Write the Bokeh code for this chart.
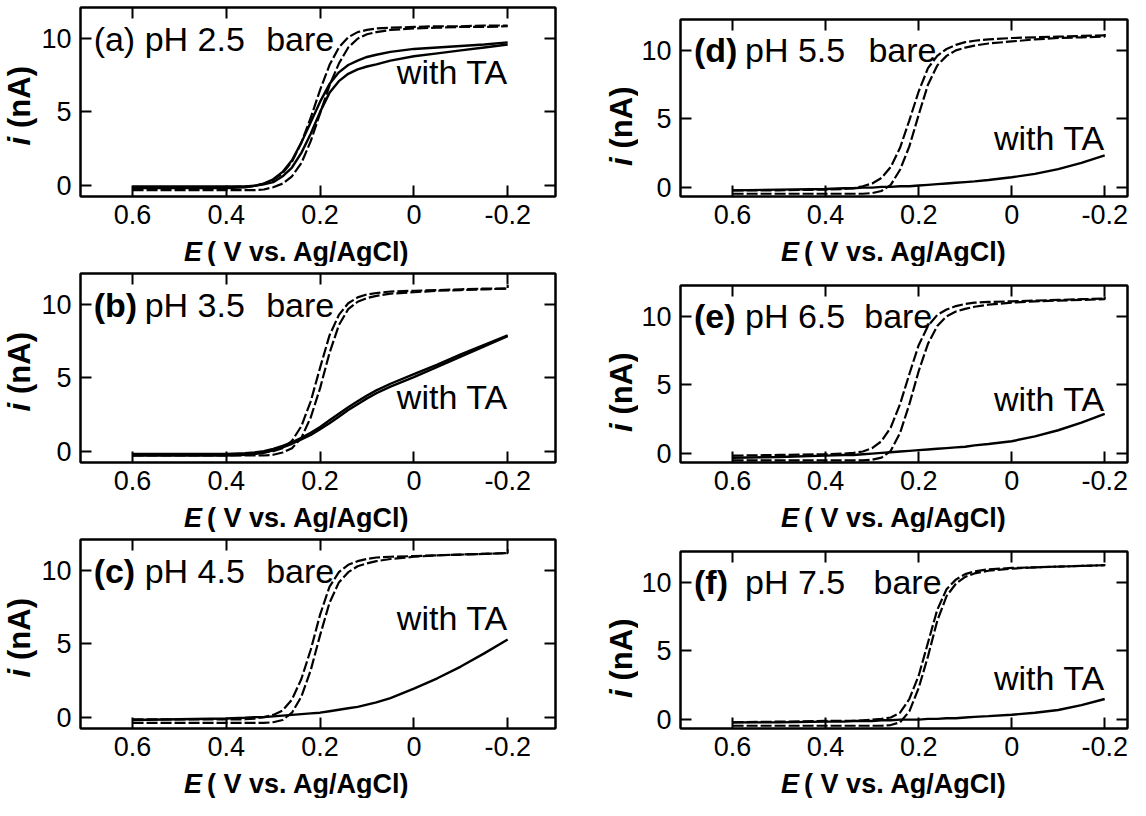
import math
from bokeh.plotting import figure
from bokeh.models import LinearAxis, FixedTicker, Range1d, Label
from bokeh.layouts import row, column
from bokeh.embed import file_html
from bokeh.resources import INLINE

# ---------------- data ----------------
E = [0.60, 0.50, 0.40, 0.36, 0.34, 0.32, 0.30, 0.28, 0.26, 0.24, 0.22, 0.20,
     0.18, 0.16, 0.14, 0.12, 0.10, 0.08, 0.05, 0.00, -0.05, -0.10, -0.15, -0.20]
E_BARE = E + [-0.20]

x_ticks = [0.6, 0.4, 0.2, 0.0, -0.2]
x_tick_labels = ["0.6", "0.4", "0.2", "0", "-0.2"]
y_ticks = [0, 5, 10]
y_tick_labels = ["0", "5", "10"]

letters = ["a", "b", "c", "d", "e", "f"]
ph_labels = ["pH 2.5", "pH 3.5", "pH 4.5", "pH 5.5", "pH 6.5", "pH 7.5"]

# bare electrode, two sweeps (i / nA)
bare1_a = [-0.15, -0.15, -0.15, -0.1, -0.05, 0.1, 0.35, 0.8, 1.6, 2.9, 4.6, 6.5, 8.2, 9.4, 10.1, 10.45, 10.6, 10.7, 10.75, 10.8, 10.85, 10.85, 10.9, 10.9, 10.9]
bare2_a = [-0.35, -0.35, -0.35, -0.35, -0.35, -0.3, -0.15, 0.1, 0.6, 1.5, 3.0, 4.9, 6.8, 8.3, 9.4, 10.0, 10.3, 10.45, 10.6, 10.7, 10.75, 10.8, 10.8, 10.85, 10.85]
bare1_b = [-0.2, -0.2, -0.2, -0.2, -0.15, -0.1, 0.0, 0.2, 0.7, 1.7, 3.4, 5.7, 7.9, 9.3, 10.1, 10.5, 10.7, 10.8, 10.9, 10.95, 11.0, 11.05, 11.1, 11.1, 11.1]
bare2_b = [-0.3, -0.3, -0.3, -0.3, -0.3, -0.3, -0.25, -0.1, 0.2, 0.9, 2.3, 4.3, 6.7, 8.6, 9.7, 10.2, 10.45, 10.6, 10.75, 10.85, 10.95, 11.0, 11.05, 11.1, 11.35]
bare1_c = [-0.15, -0.15, -0.15, -0.15, -0.1, 0.0, 0.15, 0.45, 1.2, 2.6, 4.6, 7.0, 8.9, 9.9, 10.4, 10.65, 10.8, 10.9, 10.95, 11.0, 11.05, 11.1, 11.15, 11.2, 11.2]
bare2_c = [-0.4, -0.4, -0.4, -0.4, -0.4, -0.4, -0.35, -0.2, 0.3, 1.4, 3.2, 5.6, 7.8, 9.2, 9.9, 10.3, 10.5, 10.65, 10.8, 10.95, 11.05, 11.1, 11.15, 11.2, 11.45]
bare1_d = [-0.2, -0.2, -0.15, -0.1, -0.05, 0.1, 0.3, 0.7, 1.5, 2.9, 4.9, 7.0, 8.7, 9.6, 10.1, 10.4, 10.6, 10.7, 10.8, 10.9, 10.95, 11.0, 11.05, 11.1, 11.1]
bare2_d = [-0.45, -0.45, -0.45, -0.45, -0.45, -0.45, -0.4, -0.25, 0.2, 1.3, 3.0, 5.3, 7.5, 8.9, 9.6, 10.0, 10.2, 10.35, 10.5, 10.65, 10.8, 10.9, 10.95, 11.0, 11.2]
bare1_e = [-0.15, -0.1, -0.05, 0.0, 0.05, 0.15, 0.4, 0.9, 1.9, 3.6, 5.8, 7.9, 9.3, 10.1, 10.5, 10.75, 10.9, 11.0, 11.05, 11.1, 11.15, 11.2, 11.25, 11.3, 11.3]
bare2_e = [-0.5, -0.5, -0.5, -0.5, -0.5, -0.5, -0.45, -0.3, 0.2, 1.5, 3.6, 6.0, 8.0, 9.3, 10.0, 10.35, 10.55, 10.7, 10.85, 11.0, 11.1, 11.15, 11.2, 11.25, 11.45]
bare1_f = [-0.2, -0.15, -0.1, -0.1, -0.1, -0.05, 0.0, 0.05, 0.15, 0.5, 1.5, 3.2, 5.6, 8.0, 9.5, 10.2, 10.6, 10.8, 10.95, 11.05, 11.1, 11.15, 11.2, 11.25, 11.25]
bare2_f = [-0.45, -0.45, -0.45, -0.45, -0.45, -0.45, -0.45, -0.45, -0.4, -0.2, 0.6, 2.3, 4.6, 7.2, 9.0, 9.9, 10.4, 10.65, 10.85, 11.0, 11.1, 11.15, 11.2, 11.25, 11.3]

# electrode with TA (i / nA)
ta1_a = [-0.2, -0.2, -0.2, -0.15, -0.05, 0.1, 0.4, 0.9, 1.7, 2.9, 4.3, 5.7, 6.9, 7.7, 8.2, 8.5, 8.75, 8.9, 9.1, 9.3, 9.4, 9.5, 9.6, 9.75]
ta2_a = [-0.1, -0.1, -0.1, -0.1, -0.05, 0.05, 0.2, 0.6, 1.2, 2.2, 3.5, 5.0, 6.3, 7.1, 7.6, 7.9, 8.1, 8.25, 8.5, 8.8, 9.0, 9.2, 9.4, 9.6]
ta1_b = [-0.2, -0.2, -0.2, -0.15, -0.1, 0.0, 0.15, 0.35, 0.6, 0.9, 1.25, 1.65, 2.1, 2.55, 3.0, 3.4, 3.8, 4.15, 4.6, 5.25, 5.9, 6.6, 7.25, 7.9]
ta2_b = [-0.3, -0.3, -0.3, -0.25, -0.2, -0.1, 0.05, 0.25, 0.5, 0.8, 1.1, 1.5, 1.9, 2.35, 2.8, 3.2, 3.6, 3.95, 4.4, 5.05, 5.75, 6.45, 7.15, 7.85]
ta_c = [-0.2, -0.15, -0.1, -0.05, 0.0, 0.0, 0.05, 0.1, 0.15, 0.2, 0.25, 0.3, 0.4, 0.5, 0.6, 0.7, 0.85, 1.0, 1.3, 1.95, 2.65, 3.45, 4.35, 5.3]
ta_d = [-0.2, -0.15, -0.1, -0.05, -0.05, 0.0, 0.0, 0.05, 0.05, 0.1, 0.1, 0.15, 0.2, 0.25, 0.3, 0.35, 0.4, 0.45, 0.55, 0.75, 1.0, 1.35, 1.8, 2.35]
ta_e = [-0.3, -0.25, -0.15, -0.1, -0.1, -0.05, 0.0, 0.05, 0.1, 0.15, 0.2, 0.25, 0.3, 0.35, 0.4, 0.45, 0.5, 0.6, 0.7, 0.9, 1.25, 1.7, 2.25, 2.9]
ta_f = [-0.2, -0.2, -0.15, -0.15, -0.1, -0.1, -0.1, -0.05, -0.05, 0.0, 0.0, 0.0, 0.05, 0.05, 0.1, 0.1, 0.15, 0.2, 0.25, 0.35, 0.5, 0.7, 1.05, 1.5]

bare_sets = [(bare1_a, bare2_a), (bare1_b, bare2_b), (bare1_c, bare2_c),
             (bare1_d, bare2_d), (bare1_e, bare2_e), (bare1_f, bare2_f)]
ta_sets = [[ta1_a, ta2_a], [ta1_b, ta2_b], [ta_c], [ta_d], [ta_e], [ta_f]]

# label placement (data units)
ta_label_y = [7.7, 3.7, 6.8, 3.6, 4.0, 3.0]
bare_label_x = [0.315, 0.315, 0.315, 0.308, 0.317, 0.297]

FONT = "Liberation Sans"
TICK_FS = "27px"
ANN_FS = "34px"
TITLE_FS = "27px"
YTITLE_FS = "31px"

# geometry per column (pixels)
COLS = {
    "left": dict(ytw=38, ytx=0.5, bl=36, fw=475, br=20, bt=7, fh=189, bb=40,
                 eh=30, ey=0.5, xr=(0.711, -0.302), yr=(-0.78, 12.13),
                 etitle_x=0.452, yi=3.3, yn=3.9),
    "right": dict(ytw=63, ytx=0.73, bl=40, fw=447, br=3, bt=19, fh=177, bb=40,
                  eh=30, ey=0.5, xr=(0.712, -0.249), yr=(-0.65, 12.25),
                  etitle_x=0.457, yi=2.2, yn=2.85),
}


def style_axis(ax, ticks, labels, show):
    ax.ticker = FixedTicker(ticks=ticks)
    ax.major_label_overrides = {t: l for t, l in zip(ticks, labels)}
    ax.minor_tick_line_color = None
    ax.major_tick_in = 11
    ax.major_tick_out = 0
    ax.major_tick_line_width = 2
    ax.major_tick_line_color = "black"
    ax.axis_line_width = 2
    ax.axis_line_color = "black"
    ax.major_label_text_font = FONT
    if show:
        ax.major_label_text_color = "black"
        ax.major_label_text_font_size = TICK_FS
    else:
        ax.major_label_text_color = None
        ax.major_label_text_font_size = "0px"
        ax.major_label_standoff = 0


def blank_fig(w, h, xr, yr, bl=0, br=0, bt=0, bb=0):
    f = figure(frame_width=w, frame_height=h, x_range=Range1d(*xr),
               y_range=Range1d(*yr), output_backend="svg",
               toolbar_location=None, x_axis_location=None,
               y_axis_location=None, min_border_left=bl, min_border_right=br,
               min_border_top=bt, min_border_bottom=bb)
    f.outline_line_color = None
    f.grid.visible = False
    f.background_fill_color = "white"
    f.border_fill_color = "white"
    return f


def make_panel(i, col):
    g = COLS[col]
    p = figure(frame_width=g["fw"], frame_height=g["fh"],
               x_range=Range1d(*g["xr"]), y_range=Range1d(*g["yr"]),
               output_backend="svg", toolbar_location=None,
               min_border_left=g["bl"], min_border_right=g["br"],
               min_border_top=g["bt"], min_border_bottom=g["bb"])
    p.background_fill_color = "white"
    p.border_fill_color = "white"
    p.xgrid.visible = False
    p.ygrid.visible = False
    p.outline_line_color = "black"
    p.outline_line_width = 2
    p.outline_line_alpha = 1.0

    style_axis(p.xaxis[0], x_ticks, x_tick_labels, True)
    p.xaxis[0].major_label_standoff = 8
    style_axis(p.yaxis[0], y_ticks, y_tick_labels, True)
    p.yaxis[0].major_label_standoff = 9
    top = LinearAxis()
    style_axis(top, x_ticks, x_tick_labels, False)
    p.add_layout(top, "above")
    right = LinearAxis()
    style_axis(right, y_ticks, y_tick_labels, False)
    p.add_layout(right, "right")

    b1, b2 = bare_sets[i]
    p.line(E_BARE, b1, line_color="black", line_width=2.2, line_dash="11 3")
    p.line(E_BARE, b2, line_color="black", line_width=2.2, line_dash="11 3")
    for ta in ta_sets[i]:
        p.line(E, ta, line_color="black", line_width=2.4)

    # in-panel annotations
    letter_style = "normal" if letters[i] == "a" else "bold"
    p.add_layout(Label(x=0.683, y=10, text="(" + letters[i] + ")",
                       text_font=FONT, text_font_size=ANN_FS,
                       text_font_style=letter_style, text_color="black",
                       text_align="left", text_baseline="middle"))
    p.add_layout(Label(x=0.683, y=10, x_offset=51, text=ph_labels[i],
                       text_font=FONT, text_font_size=ANN_FS,
                       text_color="black", text_align="left",
                       text_baseline="middle"))
    p.add_layout(Label(x=bare_label_x[i], y=10, text="bare",
                       text_font=FONT, text_font_size=ANN_FS,
                       text_color="black", text_align="left",
                       text_baseline="middle"))
    p.add_layout(Label(x=-0.2, y=ta_label_y[i], text="with TA",
                       text_font=FONT, text_font_size=ANN_FS,
                       text_color="black", text_align="right",
                       text_baseline="middle"))

    # x-axis title strip (same x scale as the panel)
    ef = blank_fig(g["fw"], g["eh"], g["xr"], (0, 1), bl=g["bl"], br=g["br"])
    ef.add_layout(Label(x=g["etitle_x"], y=g["ey"], text="E",
                        text_font=FONT, text_font_size=TITLE_FS,
                        text_font_style="bold italic", text_color="black",
                        text_align="right", text_baseline="middle"))
    ef.add_layout(Label(x=g["etitle_x"], y=g["ey"], x_offset=5,
                        text="( V vs. Ag/AgCl)",
                        text_font=FONT, text_font_size=TITLE_FS,
                        text_font_style="bold", text_color="black",
                        text_align="left", text_baseline="middle"))

    # y-axis title strip (same y scale as the panel)
    yf = blank_fig(g["ytw"], g["fh"], (0, 1), g["yr"], bt=g["bt"], bb=g["bb"])
    yf.add_layout(Label(x=g["ytx"], y=g["yi"], text="i",
                        text_font=FONT, text_font_size=YTITLE_FS,
                        text_font_style="bold italic", text_color="black",
                        text_align="right", text_baseline="middle",
                        angle=math.pi / 2))
    yf.add_layout(Label(x=g["ytx"], y=g["yn"], text="(nA)",
                        text_font=FONT, text_font_size=YTITLE_FS,
                        text_font_style="bold", text_color="black",
                        text_align="left", text_baseline="middle",
                        angle=math.pi / 2))

    return row([yf, column([p, ef], spacing=0)], spacing=0)


left = column([make_panel(i, "left") for i in range(3)], spacing=0)
right = column([make_panel(i, "right") for i in range(3, 6)], spacing=0)
layout = row([left, right], spacing=0)

open("out.html", "w").write(file_html(layout, INLINE))
